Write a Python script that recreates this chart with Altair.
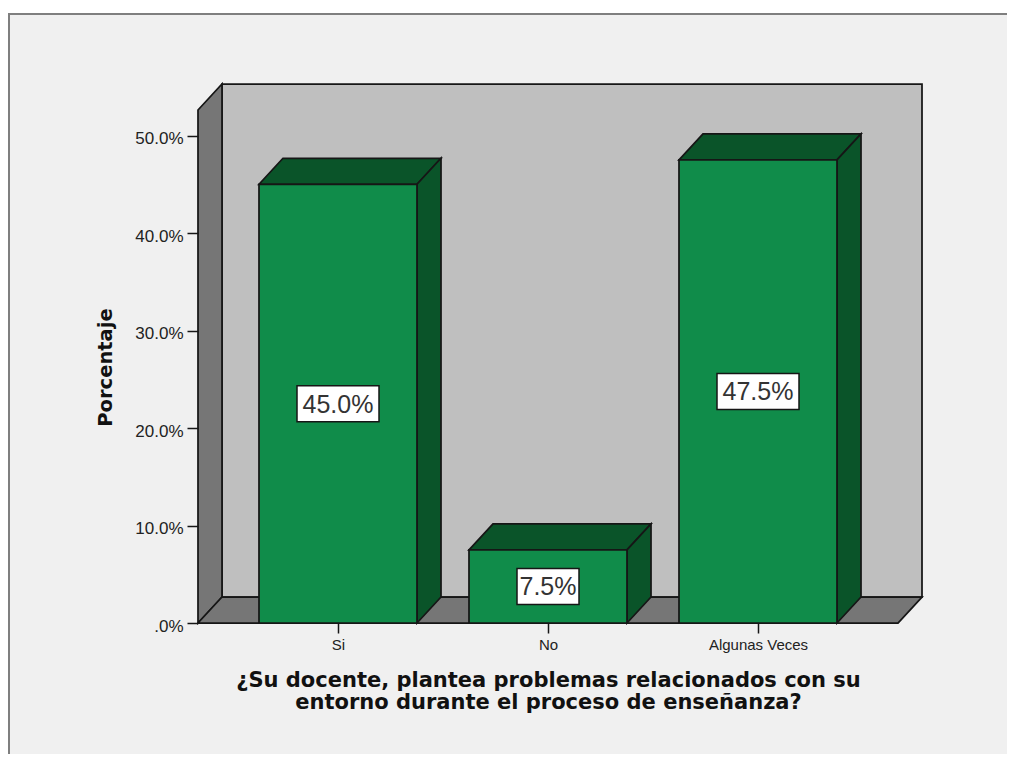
import altair as alt
import pandas as pd

categories = ["Si", "No", "Algunas Veces"]
values = [45.0, 7.5, 47.5]
labels = ["45.0%", "7.5%", "47.5%"]
y_ticks = [0, 10, 20, 30, 40, 50]
x_title = ["¿Su docente, plantea problemas relacionados con su", "entorno durante el proceso de enseñanza?"]
y_title = "Porcentaje"

PXX = 210.0
PXY = 9.75
W, H = 724, 539
X0 = -140 / PXX
DX = 24 / PXX
DY = 26 / PXY
HALF = 79 / PXX
XMAX = X0 + W / PXX
YMAX = H / PXY

xs = alt.Scale(domain=[X0, XMAX], nice=False, zero=False)
ys = alt.Scale(domain=[0, YMAX], nice=False, zero=False)
LINE = "#161616"
SW = 1.75

x_expr = "datum.value==0?'%s':datum.value==1?'%s':'%s'" % tuple(categories)
y_expr = "datum.value==0?'.0%':format(datum.value,'.1f')+'%'"

x_axis = alt.Axis(values=[0, 1, 2], labelExpr=x_expr, title=x_title, domain=False, grid=False, zindex=1,
                  tickSize=10, tickWidth=1.5, tickColor=LINE, labelFont="Liberation Sans", labelFontSize=15,
                  labelColor="#222222", labelPadding=4, titleFont="DejaVu Sans", titleFontWeight="bold",
                  titleFontSize=21, titleColor="#111111", titleLineHeight=22, titleX=350, titleY=63,
                  titleAnchor="middle", titleAlign="center", titleBaseline="alphabetic")
y_axis = alt.Axis(values=y_ticks, labelExpr=y_expr, title=y_title, domain=False, grid=False, zindex=1,
                  tickSize=11, tickWidth=1.5, tickColor=LINE, labelFont="Liberation Sans", labelFontSize=17,
                  labelColor="#222222", labelPadding=4, labelOffset=3, titleFont="DejaVu Sans", titleFontWeight="bold",
                  titleFontSize=19.5, titleColor="#111111", titleX=-83, titleY=283, titleAnchor="middle", titleAlign="center")

# page frame
frame = alt.Chart(pd.DataFrame({"a": [0]})).mark_rect(fill="#f0f0f0", stroke="#7f7f7f", strokeWidth=2).encode(
    x=alt.value(-189), x2=alt.value(840), y=alt.value(-70), y2=alt.value(700))

# back wall with axes attached
wall = alt.Chart(pd.DataFrame({"x": [X0 + DX], "x2": [XMAX], "y": [DY], "y2": [YMAX]})).mark_rect(
    fill="#bfbfbf", stroke=LINE, strokeWidth=SW).encode(
    x=alt.X("x:Q", scale=xs, axis=x_axis), x2="x2:Q",
    y=alt.Y("y:Q", scale=ys, axis=y_axis), y2="y2:Q")

left = alt.Chart(pd.DataFrame({"x": [X0, X0 + DX], "y": [0, DY], "y2": [YMAX - DY, YMAX]})).mark_area(
    fill="#767676", stroke=LINE, strokeWidth=SW, orient="vertical").encode(
    x=alt.X("x:Q", scale=xs), y=alt.Y("y:Q", scale=ys), y2="y2:Q")

floor = alt.Chart(pd.DataFrame({"y": [0, DY], "x": [X0, X0 + DX], "x2": [X0 + 700 / PXX, XMAX]})).mark_area(
    fill="#767676", stroke=LINE, strokeWidth=SW, orient="horizontal").encode(
    y=alt.Y("y:Q", scale=ys), x=alt.X("x:Q", scale=xs), x2="x2:Q")

layers = [frame, wall, left, floor]

for i, v in enumerate(values):
    l, r = i - HALF, i + HALF
    top = alt.Chart(pd.DataFrame({"y": [v, v + DY], "x": [l, l + DX], "x2": [r, r + DX]})).mark_area(
        fill="#0a5429", stroke=LINE, strokeWidth=SW, orient="horizontal").encode(
        y=alt.Y("y:Q", scale=ys), x=alt.X("x:Q", scale=xs), x2="x2:Q")
    side = alt.Chart(pd.DataFrame({"x": [r, r + DX], "y": [0, DY], "y2": [v, v + DY]})).mark_area(
        fill="#0a5429", stroke=LINE, strokeWidth=SW, orient="vertical").encode(
        x=alt.X("x:Q", scale=xs), y=alt.Y("y:Q", scale=ys), y2="y2:Q")
    front = alt.Chart(pd.DataFrame({"x": [l], "x2": [r], "y": [0], "y2": [v]})).mark_rect(
        fill="#108c4a", stroke=LINE, strokeWidth=SW).encode(
        x=alt.X("x:Q", scale=xs), x2="x2:Q", y=alt.Y("y:Q", scale=ys), y2="y2:Q")
    layers += [top, side, front]

rows = []
for i, (v, t) in enumerate(zip(values, labels)):
    hw = (len(t) * 20 - 18) / 2 / PXX
    hh = 18 / PXY
    rows.append({"x": i, "y": v / 2, "x1": i - hw, "x2": i + hw, "y1": v / 2 - hh, "y2": v / 2 + hh, "t": t})
lab = pd.DataFrame(rows)
box = alt.Chart(lab).mark_rect(fill="white", stroke=LINE, strokeWidth=1.5).encode(
    x=alt.X("x1:Q", scale=xs), x2="x2:Q", y=alt.Y("y1:Q", scale=ys), y2="y2:Q")
txt = alt.Chart(lab).mark_text(font="Liberation Sans", fontSize=25, color="#333333", baseline="middle", dy=1).encode(
    x=alt.X("x:Q", scale=xs), y=alt.Y("y:Q", scale=ys), text="t:N")
layers += [box, txt]

chart = alt.layer(*layers).properties(
    width=W, height=H, background="white",
    padding={"left": 190, "top": 76, "right": 85, "bottom": 131},
    autosize=alt.AutoSizeParams(type="none"),
).configure_view(stroke=None)
chart.save("out.html", embed_options={"renderer": "svg", "actions": False})
